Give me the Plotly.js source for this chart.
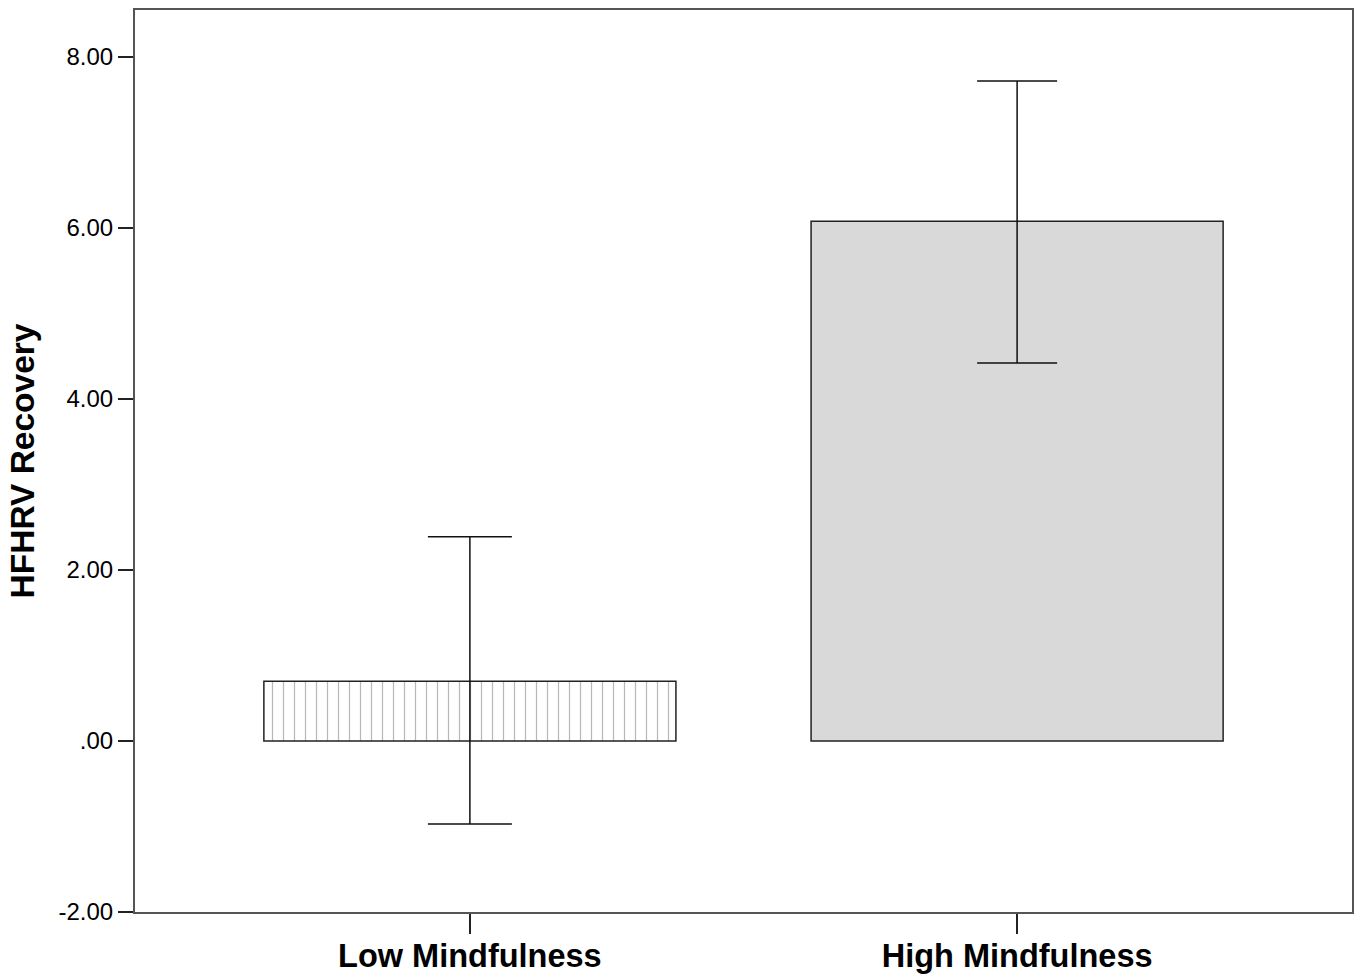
<!DOCTYPE html>
<html>
<head>
<meta charset="utf-8">
<script src="https://cdn.plot.ly/plotly-3.0.1.min.js"></script>
<style>html,body{margin:0;padding:0;background:#fff;}#chart{width:1361px;height:977px;}</style>
</head>
<body>
<div id="chart"></div>
<script>
const categories = ["Low Mindfulness", "High Mindfulness"];
const means = [0.70, 6.08];
const errUpper = [1.69, 1.64];
const errLower = [1.67, 1.66];
const yTickVals = [-2, 0, 2, 4, 6, 8];
const yTickText = ["-2.00", ".00", "2.00", "4.00", "6.00", "8.00"];

const traces = [
  {
    type: "bar",
    x: [categories[0]],
    y: [means[0]],
    width: 0.753,
    marker: {
      color: "#ffffff",
      line: {color: "#222222", width: 1.5},
      pattern: {shape: "|", fgcolor: "#b8b8b8", bgcolor: "#ffffff", size: 11, solidity: 0.11}
    },
    error_y: {type: "data", symmetric: false, array: [errUpper[0]], arrayminus: [errLower[0]],
      color: "#111111", thickness: 1.5, width: 42},
    hoverinfo: "skip"
  },
  {
    type: "bar",
    x: [categories[1]],
    y: [means[1]],
    width: 0.753,
    marker: {color: "#d9d9d9", line: {color: "#222222", width: 1.5}},
    error_y: {type: "data", symmetric: false, array: [errUpper[1]], arrayminus: [errLower[1]],
      color: "#111111", thickness: 1.5, width: 40},
    hoverinfo: "skip"
  }
];

const layout = {
  width: 1361, height: 977,
  margin: {l: 135, r: 9, t: 10, b: 65},
  paper_bgcolor: "#ffffff", plot_bgcolor: "#ffffff",
  showlegend: false,
  barmode: "overlay",
  font: {family: "Liberation Sans, Arial, sans-serif", color: "#000000"},
  xaxis: {
    type: "category",
    categoryorder: "array", categoryarray: categories,
    range: [-0.612, 1.612],
    showgrid: false, zeroline: false,
    showline: true, linecolor: "#555555", linewidth: 2, mirror: true,
    ticks: "outside", ticklen: 20, tickwidth: 1.5, tickcolor: "#222222",
    ticklabelstandoff: -6,
    tickfont: {size: 32.5, family: "Liberation Sans, Arial, sans-serif", weight: "bold", color: "#000"}
  },
  yaxis: {
    range: [-2, 8.55],
    tickvals: yTickVals, ticktext: yTickText,
    showgrid: false, zeroline: false,
    showline: true, linecolor: "#555555", linewidth: 2, mirror: true,
    ticks: "outside", ticklen: 15, tickwidth: 1.5, tickcolor: "#222222",
    tickfont: {size: 24, color: "#000"},
    title: {text: "HFHRV Recovery", standoff: 14,
      font: {size: 33.5, weight: "bold", family: "Liberation Sans, Arial, sans-serif", color: "#000"}}
  }
};

Plotly.newPlot("chart", traces, layout, {displayModeBar: false, staticPlot: true});
</script>
</body>
</html>
